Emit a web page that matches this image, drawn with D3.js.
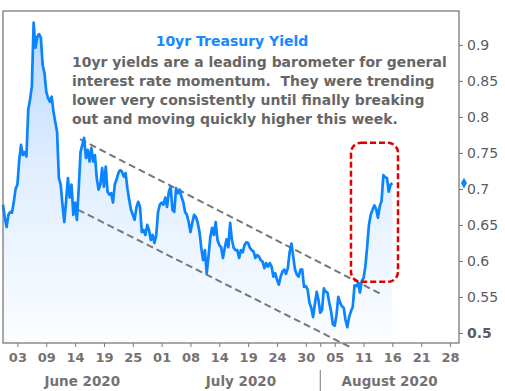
<!DOCTYPE html>
<html><head><meta charset="utf-8">
<script src="https://cdn.jsdelivr.net/npm/d3@7"></script>
<style>body{margin:0;background:#fff}svg{display:block}</style>
</head><body>
<svg id="c" width="505" height="391"></svg>
<script>
// ---- data ----
const stepDays = 0.25;            // trading days between readings, starting Jun 1
const yields = [
0.678,0.660,0.647,0.664,0.668,0.667,0.682,0.700,0.706,0.740,
0.761,0.747,0.751,0.745,0.810,0.824,0.842,0.931,0.896,0.911,
0.915,0.910,0.872,0.861,0.835,0.826,0.821,0.828,0.807,0.793,
0.779,0.715,0.706,0.678,0.654,0.683,0.715,0.688,0.706,0.664,
0.681,0.657,0.700,0.751,0.761,0.771,0.743,0.754,0.738,0.757,
0.738,0.747,0.715,0.699,0.706,0.729,0.703,0.731,0.696,0.692,
0.694,0.681,0.706,0.713,0.722,0.726,0.724,0.717,0.722,0.701,
0.685,0.671,0.664,0.657,0.674,0.682,0.675,0.640,0.643,0.636,
0.650,0.643,0.629,0.636,0.625,0.636,0.668,0.678,0.681,0.678,
0.688,0.675,0.696,0.703,0.671,0.668,0.701,0.694,0.699,0.689,
0.682,0.668,0.664,0.654,0.640,0.653,0.664,0.661,0.653,0.640,
0.618,0.601,0.615,0.583,0.606,0.633,0.646,0.636,0.654,0.629,
0.622,0.619,0.604,0.618,0.630,0.619,0.653,0.629,0.618,0.615,
0.615,0.604,0.615,0.612,0.622,0.626,0.625,0.618,0.615,0.613,
0.604,0.608,0.606,0.601,0.599,0.590,0.597,0.592,0.597,0.592,
0.578,0.583,0.574,0.567,0.578,0.585,0.588,0.582,0.590,0.612,
0.624,0.606,0.588,0.581,0.578,0.588,0.588,0.564,0.565,0.560,
0.542,0.535,0.522,0.540,0.557,0.546,0.528,0.532,0.562,0.557,
0.556,0.542,0.530,0.512,0.510,0.525,0.550,0.542,0.537,0.535,
0.518,0.508,0.522,0.530,0.536,0.566,0.565,0.569,0.556,0.572,
0.576,0.592,0.619,0.650,0.664,0.671,0.677,0.672,0.660,0.676,
0.683,0.719,0.716,0.715,0.696,0.706,0.708
];
const yTicks = [0.5,0.55,0.6,0.65,0.7,0.75,0.8,0.85,0.9];
const xTickDays = [2,6,10,14,18,22,26,30,34,38,42,44,46,50,54,58,62];
const xTickLabels = ["03","09","14","19","25","01","08","14","19","24","30","","05","11","16","21","28"];
const monthLabels = ["June 2020","July 2020","August 2020"];
const monthStarts = [0,22,44];
const axisEndDay = 63.24;
const monthDividers = [44];
const upperChannel = [[10.68,0.769],[52.42,0.554]];
const lowerChannel = [[10.40,0.671],[48.40,0.479]];
const boxDays = [48.26,54.78];
const boxYields = [0.571,0.764];
const titleText = "10yr Treasury Yield";
const noteLines = [
  "10yr yields are a leading barometer for general",
  "interest rate momentum.  They were trending",
  "lower very consistently until finally breaking",
  "out and moving quickly higher this week."
];

// ---- chart ----
const svg = d3.select("#c");
const x = d3.scaleLinear().domain([0, axisEndDay]).range([3, 459]);
const y = d3.scaleLinear().domain([0.486, 0.947]).range([343, 11]);
const pts = yields.map((v,i)=>({t:i*stepDays, v}));

const defs = svg.append("defs");
const g = defs.append("linearGradient").attr("id","fillg")
  .attr("gradientUnits","userSpaceOnUse").attr("x1",0).attr("x2",0)
  .attr("y1",y(0.93)).attr("y2",y.range()[0]);
g.append("stop").attr("offset",0).attr("stop-color","#b8d8ff");
g.append("stop").attr("offset",0.45).attr("stop-color","#e0eeff");
g.append("stop").attr("offset",1).attr("stop-color","#fbfdff");

svg.append("path").datum(pts)
  .attr("d", d3.area().x(d=>x(d.t)).y0(y.range()[0]).y1(d=>y(d.v)))
  .attr("fill","url(#fillg)");

// channel lines
[upperChannel, lowerChannel].forEach(seg=>{
  svg.append("path").datum(seg)
    .attr("d", d3.line().x(d=>x(d[0])).y(d=>y(d[1])))
    .attr("fill","none").attr("stroke","#777777").attr("stroke-width",2)
    .attr("stroke-dasharray","7,4");
});

svg.append("path").datum(pts)
  .attr("d", d3.line().x(d=>x(d.t)).y(d=>y(d.v)))
  .attr("fill","none").attr("stroke","#0a84ff").attr("stroke-width",2.7)
  .attr("stroke-linejoin","round");

// breakout box
svg.append("rect")
  .attr("x", x(boxDays[0])).attr("y", y(boxYields[1]))
  .attr("width", x(boxDays[1])-x(boxDays[0])).attr("height", y(boxYields[0])-y(boxYields[1]))
  .attr("rx",10).attr("ry",10)
  .attr("fill","none").attr("stroke","#e00000").attr("stroke-width",2.5)
  .attr("stroke-dasharray","6,3");

// frame
svg.append("rect").attr("x",x.range()[0]).attr("y",y.range()[1])
  .attr("width",x.range()[1]-x.range()[0]).attr("height",y.range()[0]-y.range()[1])
  .attr("fill","none").attr("stroke","#6e6e6e").attr("stroke-width",1.2);

// y axis
const ya = svg.append("g").attr("transform",`translate(${x.range()[1]},0)`)
  .call(d3.axisRight(y).tickValues(yTicks).tickSize(4).tickPadding(4).tickFormat(d3.format(".2~f")));
ya.select(".domain").remove();
ya.selectAll(".tick line").attr("stroke","#6e6e6e");
ya.selectAll(".tick text").attr("fill","#5b5b66").style("font-family","DejaVu Sans")
  .style("font-size","14px").style("font-weight",d=>d===0.5?"bold":"normal");

// last-value marker
svg.append("path").attr("d", d3.symbol().type(d3.symbolDiamond).size(32)())
  .attr("transform",`translate(${x.range()[1]+5},${y(yields[yields.length-1])})`)
  .attr("fill","#0a84ff");

// x axis
const xa = svg.append("g").attr("transform",`translate(0,${y.range()[0]})`)
  .call(d3.axisBottom(x).tickValues(xTickDays).tickSize(4).tickPadding(6)
    .tickFormat((d,i)=>xTickLabels[i]));
xa.select(".domain").remove();
xa.selectAll(".tick line").attr("stroke","#7a7a7a");
xa.selectAll(".tick text").attr("fill","#767171").style("font-family","DejaVu Sans")
  .style("font-size","13px").style("font-weight","bold");

// month labels
monthLabels.forEach((m,i)=>{
  const a = monthStarts[i], b = i+1<monthStarts.length?monthStarts[i+1]:axisEndDay;
  svg.append("text").attr("x",(x(a)+x(b))/2).attr("y",386)
    .attr("text-anchor","middle").attr("fill","#767171")
    .style("font-family","DejaVu Sans").style("font-size","13.5px").style("font-weight","bold")
    .text(m);
});
monthDividers.forEach(d=>{
  svg.append("line").attr("x1",x(d)).attr("x2",x(d)).attr("y1",370).attr("y2",391)
    .attr("stroke","#7a7a7a").attr("stroke-width",1);
});

// title and note
svg.append("text").attr("x",232).attr("y",46).attr("text-anchor","middle")
  .attr("fill","#1589ff").style("font-family","DejaVu Sans").style("font-size","14px")
  .style("font-weight","bold").text(titleText);
const note = svg.append("g");
noteLines.forEach((l,i)=>{
  note.append("text").attr("x",72).attr("y",67+i*19).attr("fill","#666666")
    .style("font-family","DejaVu Sans").style("font-size","14px").style("font-weight","bold")
    .attr("xml:space","preserve").style("white-space","pre").text(l);
});
const widest = d3.max(note.selectAll("text").nodes(), n=>n.getComputedTextLength());
const fs = 14*375/widest;
note.selectAll("text").style("font-size", fs+"px");
</script>
</body></html>
